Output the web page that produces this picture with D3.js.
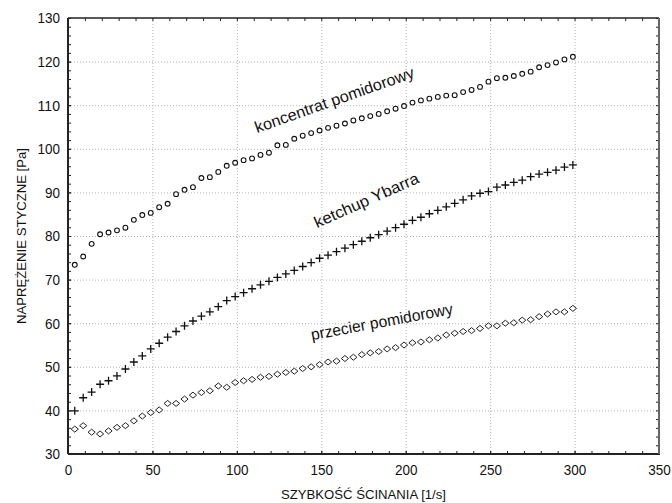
<!DOCTYPE html>
<html lang="pl">
<head>
  <meta charset="UTF-8">
  <style>
    html, body { margin: 0; padding: 0; background: #fff; }
    svg text { font-family: "Liberation Sans", Arial, sans-serif; fill: #111; }
  </style>
  <script src="https://d3js.org/d3.v7.min.js"></script>
</head>
<body>
  <svg id="chart" width="672" height="503"></svg>

  <script>
    // shear rate [1/s]
    const shearRate = [
      4, 9, 14, 19, 24, 29, 34, 39, 44, 49,
      54, 59, 64, 69, 74, 79, 84, 89, 94, 99,
      104, 109, 114, 119, 124, 129, 134, 139, 144, 149,
      154, 159, 164, 169, 174, 179, 184, 189, 194, 199,
      204, 209, 214, 219, 224, 229, 234, 239, 244, 249,
      254, 259, 264, 269, 274, 279, 284, 289, 294, 299
    ];

    // koncentrat pomidorowy (circles)
    const koncentrat = [
      73.4, 75.3, 78.2, 80.4, 80.8, 81.3, 81.9, 83.7, 84.8, 85.3,
      86.6, 87.4, 89.6, 90.6, 91.2, 93.3, 93.5, 94.7, 96.1, 96.8,
      97.4, 97.8, 98.6, 99.1, 100.8, 100.9, 102.3, 103.0, 103.6, 104.2,
      104.8, 105.3, 105.8, 106.5, 107.0, 107.5, 108.0, 108.6, 109.2, 109.8,
      110.6, 111.1, 111.5, 111.9, 112.2, 112.3, 113.0, 113.5, 114.2, 115.4,
      116.2, 116.3, 116.7, 117.2, 117.7, 118.7, 119.2, 119.8, 120.5, 121.1
    ];

    // ketchup Ybarra (plus signs)
    const ketchup = [
      39.9, 42.9, 44.2, 46.0, 46.8, 47.9, 49.5, 51.1, 52.5, 54.1,
      55.4, 56.8, 58.1, 59.4, 60.5, 61.6, 62.6, 63.8, 65.2, 66.1,
      67.0, 67.9, 68.8, 69.6, 70.5, 71.3, 72.1, 73.0, 73.9, 74.9,
      75.6, 76.4, 77.2, 78.0, 78.8, 79.6, 80.3, 81.1, 81.9, 82.7,
      83.6, 84.3, 85.1, 85.9, 86.7, 87.5, 88.3, 89.2, 89.8, 90.2,
      91.2, 91.7, 92.3, 92.8, 93.6, 94.2, 94.6, 95.1, 95.8, 96.3
    ];

    // przecier pomidorowy (diamonds)
    const przecier = [
      35.7, 36.5, 35.0, 34.6, 35.3, 36.1, 36.5, 37.6, 38.7, 39.5,
      40.1, 41.6, 41.6, 42.6, 43.5, 44.1, 44.5, 45.6, 45.3, 46.4,
      46.8, 47.1, 47.6, 47.8, 48.3, 48.7, 49.0, 49.6, 50.0, 50.5,
      51.1, 51.3, 51.9, 52.2, 52.8, 53.2, 53.5, 54.1, 54.4, 55.0,
      55.5, 55.7, 56.2, 56.6, 57.3, 57.7, 58.1, 58.3, 58.8, 59.4,
      59.4, 60.0, 60.1, 60.7, 60.8, 61.5, 62.1, 62.6, 62.6, 63.4
    ];

    const xTicks = [0, 50, 100, 150, 200, 250, 300, 350];
    const yTicks = [30, 40, 50, 60, 70, 80, 90, 100, 110, 120, 130];
    const xMinor = d3.range(0, 351, 10);
    const yMinor = d3.range(30, 131, 2);

    // curve labels: text, anchor point in data units, angle
    const curveLabels = [
      { text: "koncentrat pomidorowy", x: 112, y: 103.6, angle: -19.5, len: 168 },
      { text: "ketchup Ybarra", x: 147.5, y: 81.8, angle: -24, len: 113 },
      { text: "przecier pomidorowy", x: 144.5, y: 56.1, angle: -10.5, len: 144 }
    ];

    const svg = d3.select("#chart");
    const m = { left: 68, right: 659, top: 18, bottom: 454 };

    const x = d3.scaleLinear().domain([0, 350]).range([m.left, m.right]);
    const y = d3.scaleLinear().domain([30, 130]).range([m.bottom, m.top]);

    // dotted grid
    const grid = svg.append("g").attr("stroke", "#b4b4b4").attr("stroke-width", 1)
      .attr("stroke-dasharray", "1,2");
    grid.selectAll(".gx").data(xTicks.slice(1, -1)).enter().append("line")
      .attr("x1", d => x(d) + 0.5).attr("x2", d => x(d) + 0.5)
      .attr("y1", m.top).attr("y2", m.bottom);
    grid.selectAll(".gy").data(yTicks.slice(1, -1)).enter().append("line")
      .attr("y1", d => y(d) + 0.5).attr("y2", d => y(d) + 0.5)
      .attr("x1", m.left).attr("x2", m.right);

    // axes, ticks pointing inwards; digits squeezed a bit like the original
    function styleAxis(g) {
      g.select(".domain").remove();
      g.selectAll(".tick line").attr("stroke", "#222");
      g.selectAll(".tick text").attr("font-size", "15px").attr("fill", "#222")
        .attr("textLength", d => String(d).length * 7.5)
        .attr("lengthAdjust", "spacingAndGlyphs")
        .style("font-family", "'Liberation Sans', Arial, sans-serif");
    }

    svg.append("g").attr("transform", `translate(0,${m.bottom})`)
      .call(d3.axisBottom(x).tickValues(xTicks).tickSize(-3).tickPadding(10).tickFormat(d3.format("d")))
      .call(styleAxis);
    svg.append("g").attr("transform", `translate(${m.left},0)`)
      .call(d3.axisLeft(y).tickValues(yTicks).tickSize(-3).tickPadding(8).tickFormat(d3.format("d")))
      .call(styleAxis);

    // minor ticks on all four sides
    svg.append("g").attr("transform", `translate(0,${m.bottom})`)
      .call(d3.axisBottom(x).tickValues(xMinor).tickSize(-3).tickFormat(""))
      .call(styleAxis);
    svg.append("g").attr("transform", `translate(0,${m.top})`)
      .call(d3.axisTop(x).tickValues(xMinor).tickSize(-3).tickFormat(""))
      .call(styleAxis);
    svg.append("g").attr("transform", `translate(${m.left},0)`)
      .call(d3.axisLeft(y).tickValues(yMinor).tickSize(-3).tickFormat(""))
      .call(styleAxis);
    svg.append("g").attr("transform", `translate(${m.right},0)`)
      .call(d3.axisRight(y).tickValues(yMinor).tickSize(-3).tickFormat(""))
      .call(styleAxis);

    // frame
    svg.append("line").attr("x1", m.left).attr("x2", m.right).attr("y1", m.top).attr("y2", m.top)
      .attr("stroke", "#222").attr("stroke-width", 1.5);
    svg.append("line").attr("x1", m.left).attr("x2", m.right + 1).attr("y1", m.bottom).attr("y2", m.bottom)
      .attr("stroke", "#222").attr("stroke-width", 2);
    svg.append("line").attr("x1", m.left).attr("x2", m.left).attr("y1", m.top).attr("y2", m.bottom)
      .attr("stroke", "#222").attr("stroke-width", 2);
    svg.append("line").attr("x1", m.right).attr("x2", m.right).attr("y1", m.top).attr("y2", m.bottom)
      .attr("stroke", "#666").attr("stroke-width", 2);

    // series
    const plot = svg.append("g");

    plot.selectAll(".circ").data(d3.zip(shearRate, koncentrat)).enter().append("circle")
      .attr("cx", d => x(d[0])).attr("cy", d => y(d[1])).attr("r", 2.4)
      .attr("fill", "#fff").attr("stroke", "#111").attr("stroke-width", 1.1);

    plot.selectAll(".plus").data(d3.zip(shearRate, ketchup)).enter().append("path")
      .attr("transform", d => `translate(${x(d[0])},${y(d[1])})`)
      .attr("d", "M-4,0H4M0,-4V4")
      .attr("stroke", "#111").attr("stroke-width", 1.3).attr("fill", "none");

    plot.selectAll(".diam").data(d3.zip(shearRate, przecier)).enter().append("path")
      .attr("transform", d => `translate(${x(d[0])},${y(d[1])})`)
      .attr("d", "M0,-3L3.6,0L0,3L-3.6,0Z")
      .attr("stroke", "#222").attr("stroke-width", 1).attr("fill", "#fff");

    // curve labels
    svg.selectAll(".clabel").data(curveLabels).enter().append("text")
      .attr("transform", d => `translate(${x(d.x)},${y(d.y)}) rotate(${d.angle})`)
      .attr("font-size", "16px")
      .attr("textLength", d => d.len)
      .attr("lengthAdjust", "spacingAndGlyphs")
      .text(d => d.text);

    // axis titles
    svg.append("text")
      .attr("x", (m.left + m.right) / 2).attr("y", 499)
      .attr("text-anchor", "middle").attr("font-size", "13px")
      .attr("textLength", 165).attr("lengthAdjust", "spacingAndGlyphs")
      .attr("fill", "#222")
      .text("SZYBKOŚĆ ŚCINANIA [1/s]");

    svg.append("text")
      .attr("transform", `translate(26,${(m.top + m.bottom) / 2}) rotate(-90)`)
      .attr("text-anchor", "middle").attr("font-size", "13px")
      .attr("textLength", 176).attr("lengthAdjust", "spacingAndGlyphs")
      .attr("fill", "#222")
      .text("NAPRĘŻENIE STYCZNE [Pa]");
  </script>
</body>
</html>
